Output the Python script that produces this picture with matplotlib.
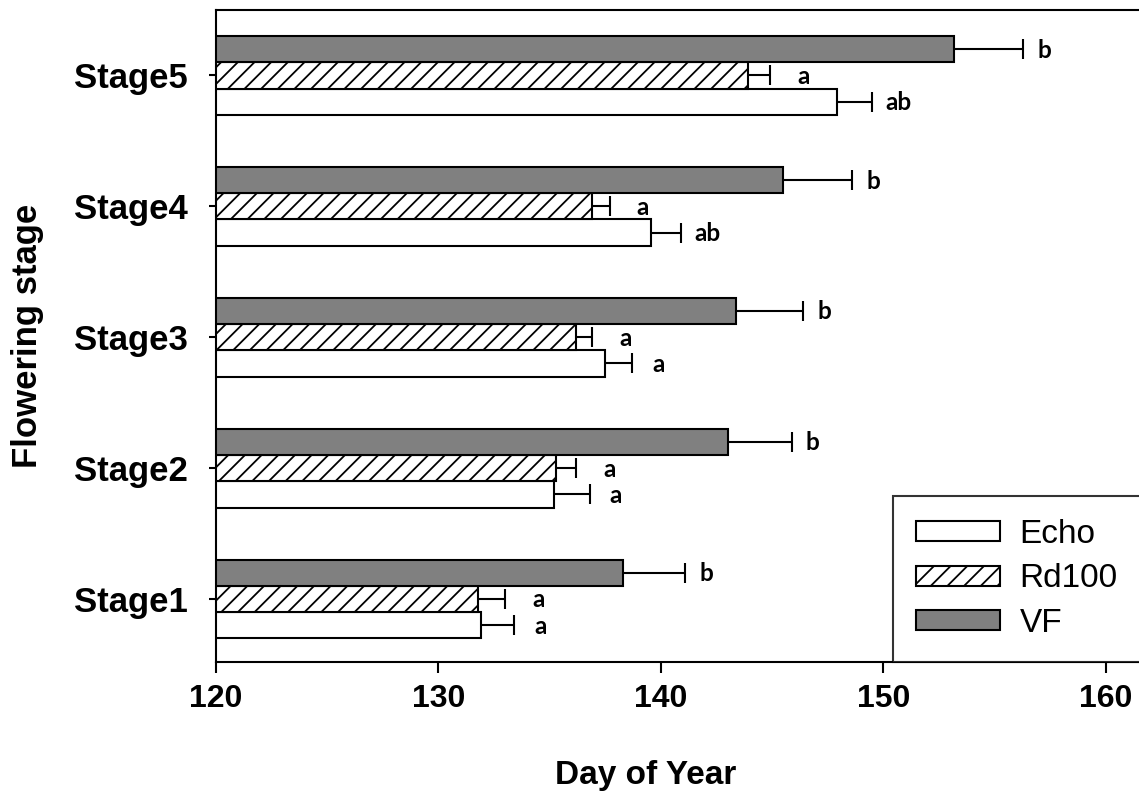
import numpy as np
import matplotlib
matplotlib.use('Agg')
import matplotlib.pyplot as plt

# data (day of year, mean and +SE)
stages = ['Stage1', 'Stage2', 'Stage3', 'Stage4', 'Stage5']
echo = [131.9, 135.2, 137.5, 139.55, 147.9]
echo_err = [1.5, 1.6, 1.2, 1.35, 1.6]
rd100 = [131.8, 135.3, 136.2, 136.9, 143.9]
rd100_err = [1.2, 0.9, 0.7, 0.8, 1.0]
vf = [138.3, 143.0, 143.4, 145.5, 153.2]
vf_err = [2.8, 2.9, 3.0, 3.1, 3.1]
echo_letters = ['a', 'a', 'a', 'ab', 'ab']
rd100_letters = ['a', 'a', 'a', 'a', 'a']
vf_letters = ['b', 'b', 'b', 'b', 'b']

plt.rcParams['font.family'] = ['Liberation Sans', 'DejaVu Sans']
plt.rcParams['hatch.linewidth'] = 1.3

fig = plt.figure(figsize=(11.39, 7.95), dpi=100)
ax = fig.add_axes([216/1139, 1-662/795, 1-216/1139, (662-10)/795])

y = np.arange(1, len(stages)+1)
h = 0.2

series = [
    ('Echo', echo, echo_err, echo_letters, -h, 'white', None, 19),
    ('Rd100', rd100, rd100_err, rd100_letters, 0, 'white', '//', 24),
    ('VF', vf, vf_err, vf_letters, h, '#808080', None, 15),
]

for name, vals, err, letters, off, col, hatch, dx in series:
    vals = np.array(vals)
    err = np.array(err)
    ax.barh(y + off, vals, height=h, color=col, edgecolor='black', linewidth=1.5,
            hatch=hatch, label=name)
    # one-sided error bar with a cap only at the outer end
    ax.errorbar(vals, y + off, xerr=[np.zeros(len(err)), err], fmt='none',
                ecolor='black', elinewidth=1.5, capsize=0)
    ax.plot(vals + err, y + off, ls='none', marker='|', ms=15, mew=1.5, color='black')
    for yi, v, e, lab in zip(y, vals, err, letters):
        ax.annotate(lab, (v + e, yi + off), xytext=(dx, -6), textcoords='offset points',
                    ha='center', va='baseline', fontsize=17.5, fontweight='bold',
                    family=['Lato', 'DejaVu Sans'])

ax.set_xlim(120, 161.5)
ax.set_ylim(0.52, 5.5)
ax.set_xticks([120, 130, 140, 150, 160])
ax.set_yticks(y)
ax.set_yticklabels(stages)
ax.tick_params(axis='x', direction='out', length=8, width=1.5, pad=8, labelsize=23)
ax.tick_params(axis='y', direction='out', length=5, width=1.5, pad=15, labelsize=25)
for t in ax.get_xticklabels() + ax.get_yticklabels():
    t.set_fontweight('bold')
for s in ['left', 'bottom', 'top']:
    ax.spines[s].set_linewidth(1.5)
ax.spines['right'].set_visible(False)

ax.set_xlabel('Day of Year', fontsize=24, fontweight='bold')
ax.xaxis.set_label_coords((646-216)/923, -(760-662)/652)
ax.set_ylabel('Flowering stage', fontsize=25, fontweight='bold')
ax.yaxis.set_label_coords((44-216)/923, 0.5)

leg = ax.legend(loc='lower left', bbox_to_anchor=((893-216)/923, 0, 0.4, 0.25),
                mode='expand', fontsize=24, frameon=True, fancybox=False,
                borderpad=0.7, labelspacing=0.4, handlelength=2.5,
                handleheight=0.55, handletextpad=0.6, borderaxespad=0)
leg.get_frame().set_edgecolor('black')
leg.get_frame().set_linewidth(1.5)

plt.savefig('out.png', dpi=100)
